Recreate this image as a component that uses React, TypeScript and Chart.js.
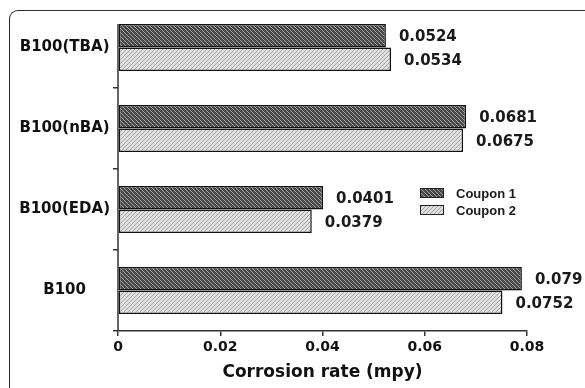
import { useEffect, useRef } from 'react';
import { Chart, registerables } from 'chart.js';

Chart.register(...registerables);

// Corrosion rate of B100 blends, measured on two coupons
const categories = ['B100(TBA)', 'B100(nBA)', 'B100(EDA)', 'B100'];
const seriesNames = ['Coupon 1', 'Coupon 2'];
const coupon1 = [0.0524, 0.0681, 0.0401, 0.079];
const coupon2 = [0.0534, 0.0675, 0.0379, 0.0752];
const xTicks = [0, 0.02, 0.04, 0.06, 0.08];
const xTitle = 'Corrosion rate (mpy)';

const SANS_BOLD = "'DejaVu Sans', sans-serif";

// Diagonal hatch tile: dir 1 draws "\" lines, dir -1 draws "/" lines
function makeHatch(bg: string, line: string, dir: number, size: number, lw: number) {
  const c = document.createElement('canvas');
  c.width = size;
  c.height = size;
  const g = c.getContext('2d')!;
  g.fillStyle = bg;
  g.fillRect(0, 0, size, size);
  g.strokeStyle = line;
  g.lineWidth = lw;
  g.beginPath();
  if (dir > 0) {
    g.moveTo(0, 0); g.lineTo(size, size);
    g.moveTo(0, -size); g.lineTo(size, 0);
    g.moveTo(0, size); g.lineTo(size, 2 * size);
  } else {
    g.moveTo(0, size); g.lineTo(size, 0);
    g.moveTo(0, 0); g.lineTo(size, -size);
    g.moveTo(0, 2 * size); g.lineTo(size, size);
  }
  g.stroke();
  return g.createPattern(c, 'repeat')!;
}

// Value written to the right of every bar
const valueLabelPlugin = {
  id: 'valueLabels',
  afterDatasetsDraw(chart: any) {
    const ctx = chart.ctx;
    ctx.save();
    ctx.font = `bold 15px ${SANS_BOLD}`;
    ctx.fillStyle = '#1a1a1a';
    ctx.textAlign = 'left';
    ctx.textBaseline = 'middle';
    chart.data.datasets.forEach((ds: any, di: number) => {
      const meta = chart.getDatasetMeta(di);
      meta.data.forEach((el: any, i: number) => {
        ctx.fillText(String(ds.data[i]), el.x + 13, el.y + 1.5);
      });
    });
    ctx.restore();
  },
};

// Vertical axis line running from the top bar down to the category axis end
const yAxisLinePlugin = {
  id: 'yAxisLine',
  afterDatasetsDraw(chart: any) {
    const first = chart.getDatasetMeta(0).data[0];
    if (!first) return;
    const { left, bottom } = chart.chartArea;
    const ctx = chart.ctx;
    ctx.save();
    ctx.strokeStyle = '#333';
    ctx.lineWidth = 1.5;
    ctx.beginPath();
    ctx.moveTo(left, first.y - first.height / 2);
    ctx.lineTo(left, bottom);
    ctx.stroke();
    ctx.restore();
  },
};

// Legend boxes placed inside the plot area
const innerLegendPlugin = {
  id: 'innerLegend',
  afterDraw(chart: any, _args: any, opts: any) {
    const ctx = chart.ctx;
    ctx.save();
    chart.data.datasets.forEach((ds: any, i: number) => {
      const x = opts.x;
      const y = opts.y + i * opts.rowGap;
      ctx.fillStyle = ds.backgroundColor;
      ctx.fillRect(x, y, opts.boxW, opts.boxH);
      ctx.strokeStyle = '#222';
      ctx.lineWidth = 1;
      ctx.strokeRect(x + 0.5, y + 0.5, opts.boxW - 1, opts.boxH - 1);
      ctx.fillStyle = '#1a1a1a';
      ctx.font = "bold 13px 'Liberation Sans', Arial, sans-serif";
      ctx.textAlign = 'left';
      ctx.textBaseline = 'middle';
      ctx.fillText(ds.label, x + opts.boxW + 12, y + opts.boxH / 2 + 1.5);
    });
    ctx.restore();
  },
};

export default function App() {
  const canvasRef = useRef<HTMLCanvasElement | null>(null);

  useEffect(() => {
    const canvas = canvasRef.current;
    if (!canvas) return;
    const hatch1 = makeHatch('#4a4a4a', '#a0a0a0', 1, 4, 1);
    const hatch2 = makeHatch('#e0e0e0', '#a4a4a4', -1, 4, 1);

    const chart = new Chart(canvas, {
      type: 'bar',
      data: {
        labels: categories,
        datasets: [
          {
            label: seriesNames[0],
            data: coupon1,
            backgroundColor: hatch1 as any,
            borderColor: '#111',
            borderWidth: 1.5,
            borderSkipped: false,
          },
          {
            label: seriesNames[1],
            data: coupon2,
            backgroundColor: hatch2 as any,
            borderColor: '#111',
            borderWidth: 1.5,
            borderSkipped: false,
          },
        ],
      },
      options: {
        indexAxis: 'y',
        responsive: false,
        animation: false,
        events: [],
        layout: { padding: { top: 7, right: 58, left: 0, bottom: 0 } },
        datasets: { bar: { categoryPercentage: 0.58, barPercentage: 1 } },
        plugins: {
          legend: { display: false },
          tooltip: { enabled: false },
          innerLegend: { x: 420, y: 188, boxW: 24, boxH: 10, rowGap: 17 },
        } as any,
        scales: {
          x: {
            type: 'linear',
            min: xTicks[0],
            max: xTicks[xTicks.length - 1],
            afterBuildTicks: (scale: any) => {
              scale.ticks = xTicks.map((v) => ({ value: v }));
            },
            afterFit: (scale: any) => {
              scale.height = 57;
              scale.paddingLeft = 0;
              scale.paddingRight = 0;
            },
            ticks: {
              color: '#111',
              font: { family: SANS_BOLD, size: 14, weight: 'bold' },
              padding: 3,
              callback: (v: any) => (Number(v) === 0 ? '0' : Number(v).toFixed(2)),
            },
            grid: { drawOnChartArea: false, drawTicks: true, tickLength: 5, color: '#333', lineWidth: 1.5 },
            border: { display: true, color: '#333', width: 1.5 },
            title: {
              display: true,
              text: xTitle,
              color: '#111',
              font: { family: SANS_BOLD, size: 17, weight: 'bold' },
              padding: { top: 0, bottom: 5 },
            },
          },
          y: {
            type: 'category',
            offset: true,
            afterFit: (scale: any) => {
              scale.width = 118;
              scale.paddingTop = 0;
              scale.paddingBottom = 0;
            },
            ticks: {
              color: '#111',
              crossAlign: 'center',
              padding: 3,
              font: { family: SANS_BOLD, size: 15, weight: 'bold' },
            },
            grid: {
              offset: true,
              drawOnChartArea: false,
              drawTicks: true,
              tickLength: 5,
              lineWidth: 1.5,
              color: (c: any) => (c.index === 0 ? 'rgba(0,0,0,0)' : '#333'),
            },
            border: { display: false },
          },
        },
      },
      plugins: [yAxisLinePlugin, valueLabelPlugin, innerLegendPlugin],
    });
    return () => chart.destroy();
  }, []);

  return (
    <div
      style={{
        position: 'fixed',
        left: 0,
        top: 0,
        width: 585,
        height: 388,
        overflow: 'hidden',
        background: '#fff',
      }}
    >
      <div
        style={{
          position: 'absolute',
          left: 9,
          top: 10,
          width: 620,
          height: 420,
          borderTop: '1.5px solid #2a2a2a',
          borderLeft: '1.5px solid #2a2a2a',
          borderTopLeftRadius: 9,
          boxSizing: 'border-box',
        }}
      />
      <canvas
        ref={canvasRef}
        width={585}
        height={388}
        style={{ position: 'absolute', left: 0, top: 0, width: 585, height: 388 }}
      />
    </div>
  );
}
